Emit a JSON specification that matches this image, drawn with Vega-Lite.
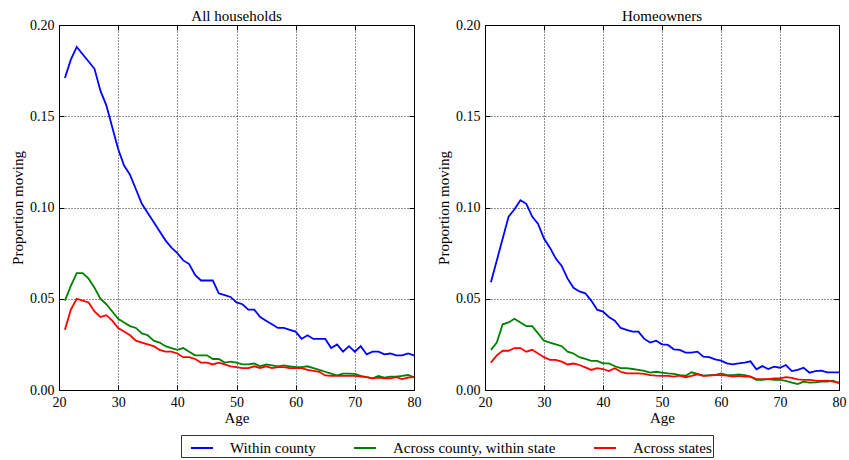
{
  "$schema": "https://vega.github.io/schema/vega-lite/v6.json",
  "padding": {"left": 10, "top": 8, "right": 5, "bottom": 0},
  "background": "white",
  "datasets": {
    "all": [
      {"age":21,"Within county":0.171,"Across county, within state":0.049,"Across states":0.033},
      {"age":22,"Within county":0.181,"Across county, within state":0.057,"Across states":0.044},
      {"age":23,"Within county":0.188,"Across county, within state":0.064,"Across states":0.050},
      {"age":24,"Within county":0.184,"Across county, within state":0.064,"Across states":0.049},
      {"age":25,"Within county":0.180,"Across county, within state":0.061,"Across states":0.048},
      {"age":26,"Within county":0.176,"Across county, within state":0.056,"Across states":0.043},
      {"age":27,"Within county":0.164,"Across county, within state":0.050,"Across states":0.040},
      {"age":28,"Within county":0.156,"Across county, within state":0.047,"Across states":0.041},
      {"age":29,"Within county":0.144,"Across county, within state":0.043,"Across states":0.038},
      {"age":30,"Within county":0.132,"Across county, within state":0.039,"Across states":0.034},
      {"age":31,"Within county":0.123,"Across county, within state":0.037,"Across states":0.032},
      {"age":32,"Within county":0.118,"Across county, within state":0.035,"Across states":0.030},
      {"age":33,"Within county":0.110,"Across county, within state":0.034,"Across states":0.027},
      {"age":34,"Within county":0.102,"Across county, within state":0.031,"Across states":0.026},
      {"age":35,"Within county":0.097,"Across county, within state":0.030,"Across states":0.025},
      {"age":36,"Within county":0.092,"Across county, within state":0.027,"Across states":0.024},
      {"age":37,"Within county":0.087,"Across county, within state":0.026,"Across states":0.022},
      {"age":38,"Within county":0.082,"Across county, within state":0.024,"Across states":0.021},
      {"age":39,"Within county":0.078,"Across county, within state":0.023,"Across states":0.021},
      {"age":40,"Within county":0.075,"Across county, within state":0.022,"Across states":0.020},
      {"age":41,"Within county":0.071,"Across county, within state":0.023,"Across states":0.018},
      {"age":42,"Within county":0.069,"Across county, within state":0.021,"Across states":0.018},
      {"age":43,"Within county":0.063,"Across county, within state":0.019,"Across states":0.017},
      {"age":44,"Within county":0.060,"Across county, within state":0.019,"Across states":0.015},
      {"age":45,"Within county":0.060,"Across county, within state":0.019,"Across states":0.015},
      {"age":46,"Within county":0.060,"Across county, within state":0.017,"Across states":0.014},
      {"age":47,"Within county":0.053,"Across county, within state":0.017,"Across states":0.015},
      {"age":48,"Within county":0.052,"Across county, within state":0.015,"Across states":0.014},
      {"age":49,"Within county":0.051,"Across county, within state":0.0155,"Across states":0.013},
      {"age":50,"Within county":0.048,"Across county, within state":0.015,"Across states":0.0125},
      {"age":51,"Within county":0.047,"Across county, within state":0.014,"Across states":0.012},
      {"age":52,"Within county":0.044,"Across county, within state":0.014,"Across states":0.012},
      {"age":53,"Within county":0.044,"Across county, within state":0.0145,"Across states":0.013},
      {"age":54,"Within county":0.040,"Across county, within state":0.013,"Across states":0.012},
      {"age":55,"Within county":0.038,"Across county, within state":0.014,"Across states":0.013},
      {"age":56,"Within county":0.036,"Across county, within state":0.0135,"Across states":0.012},
      {"age":57,"Within county":0.034,"Across county, within state":0.013,"Across states":0.0125},
      {"age":58,"Within county":0.034,"Across county, within state":0.0135,"Across states":0.0125},
      {"age":59,"Within county":0.033,"Across county, within state":0.013,"Across states":0.012},
      {"age":60,"Within county":0.032,"Across county, within state":0.0125,"Across states":0.012},
      {"age":61,"Within county":0.028,"Across county, within state":0.0125,"Across states":0.012},
      {"age":62,"Within county":0.030,"Across county, within state":0.013,"Across states":0.011},
      {"age":63,"Within county":0.028,"Across county, within state":0.012,"Across states":0.0105},
      {"age":64,"Within county":0.028,"Across county, within state":0.011,"Across states":0.010},
      {"age":65,"Within county":0.028,"Across county, within state":0.010,"Across states":0.008},
      {"age":66,"Within county":0.023,"Across county, within state":0.009,"Across states":0.0077},
      {"age":67,"Within county":0.025,"Across county, within state":0.008,"Across states":0.0077},
      {"age":68,"Within county":0.021,"Across county, within state":0.009,"Across states":0.0077},
      {"age":69,"Within county":0.024,"Across county, within state":0.009,"Across states":0.0077},
      {"age":70,"Within county":0.021,"Across county, within state":0.0088,"Across states":0.0077},
      {"age":71,"Within county":0.024,"Across county, within state":0.0077,"Across states":0.0073},
      {"age":72,"Within county":0.0195,"Across county, within state":0.007,"Across states":0.007},
      {"age":73,"Within county":0.021,"Across county, within state":0.0064,"Across states":0.0064},
      {"age":74,"Within county":0.021,"Across county, within state":0.0077,"Across states":0.0068},
      {"age":75,"Within county":0.0195,"Across county, within state":0.0068,"Across states":0.0064},
      {"age":76,"Within county":0.020,"Across county, within state":0.0073,"Across states":0.0064},
      {"age":77,"Within county":0.019,"Across county, within state":0.0073,"Across states":0.007},
      {"age":78,"Within county":0.019,"Across county, within state":0.0077,"Across states":0.006},
      {"age":79,"Within county":0.020,"Across county, within state":0.0082,"Across states":0.0068},
      {"age":80,"Within county":0.019,"Across county, within state":0.007,"Across states":0.007}
    ],
    "own": [
      {"age":21,"Within county":0.059,"Across county, within state":0.022,"Across states":0.015},
      {"age":22,"Within county":0.071,"Across county, within state":0.026,"Across states":0.019},
      {"age":23,"Within county":0.083,"Across county, within state":0.036,"Across states":0.0215},
      {"age":24,"Within county":0.095,"Across county, within state":0.037,"Across states":0.0215},
      {"age":25,"Within county":0.099,"Across county, within state":0.039,"Across states":0.023},
      {"age":26,"Within county":0.104,"Across county, within state":0.037,"Across states":0.023},
      {"age":27,"Within county":0.102,"Across county, within state":0.035,"Across states":0.021},
      {"age":28,"Within county":0.095,"Across county, within state":0.035,"Across states":0.022},
      {"age":29,"Within county":0.091,"Across county, within state":0.031,"Across states":0.020},
      {"age":30,"Within county":0.083,"Across county, within state":0.027,"Across states":0.018},
      {"age":31,"Within county":0.078,"Across county, within state":0.026,"Across states":0.0165},
      {"age":32,"Within county":0.072,"Across county, within state":0.025,"Across states":0.0165},
      {"age":33,"Within county":0.068,"Across county, within state":0.024,"Across states":0.0155},
      {"age":34,"Within county":0.061,"Across county, within state":0.021,"Across states":0.014},
      {"age":35,"Within county":0.056,"Across county, within state":0.020,"Across states":0.0145},
      {"age":36,"Within county":0.054,"Across county, within state":0.018,"Across states":0.0137},
      {"age":37,"Within county":0.053,"Across county, within state":0.017,"Across states":0.0124},
      {"age":38,"Within county":0.049,"Across county, within state":0.016,"Across states":0.011},
      {"age":39,"Within county":0.044,"Across county, within state":0.016,"Across states":0.012},
      {"age":40,"Within county":0.043,"Across county, within state":0.0146,"Across states":0.0115},
      {"age":41,"Within county":0.040,"Across county, within state":0.0146,"Across states":0.0104},
      {"age":42,"Within county":0.038,"Across county, within state":0.013,"Across states":0.0119},
      {"age":43,"Within county":0.034,"Across county, within state":0.012,"Across states":0.010},
      {"age":44,"Within county":0.033,"Across county, within state":0.012,"Across states":0.0091},
      {"age":45,"Within county":0.032,"Across county, within state":0.0115,"Across states":0.0091},
      {"age":46,"Within county":0.032,"Across county, within state":0.011,"Across states":0.0091},
      {"age":47,"Within county":0.028,"Across county, within state":0.0105,"Across states":0.0088},
      {"age":48,"Within county":0.026,"Across county, within state":0.0095,"Across states":0.0082},
      {"age":49,"Within county":0.027,"Across county, within state":0.010,"Across states":0.0079},
      {"age":50,"Within county":0.025,"Across county, within state":0.0095,"Across states":0.0077},
      {"age":51,"Within county":0.0247,"Across county, within state":0.0091,"Across states":0.0077},
      {"age":52,"Within county":0.0223,"Across county, within state":0.0088,"Across states":0.0073},
      {"age":53,"Within county":0.022,"Across county, within state":0.0082,"Across states":0.0079},
      {"age":54,"Within county":0.0205,"Across county, within state":0.0078,"Across states":0.007},
      {"age":55,"Within county":0.0205,"Across county, within state":0.0097,"Across states":0.0077},
      {"age":56,"Within county":0.021,"Across county, within state":0.0088,"Across states":0.0086},
      {"age":57,"Within county":0.0183,"Across county, within state":0.0079,"Across states":0.0077},
      {"age":58,"Within county":0.018,"Across county, within state":0.0082,"Across states":0.0079},
      {"age":59,"Within county":0.0168,"Across county, within state":0.0082,"Across states":0.0082},
      {"age":60,"Within county":0.0161,"Across county, within state":0.0091,"Across states":0.0082},
      {"age":61,"Within county":0.0146,"Across county, within state":0.0082,"Across states":0.0079},
      {"age":62,"Within county":0.0141,"Across county, within state":0.0082,"Across states":0.0073},
      {"age":63,"Within county":0.0146,"Across county, within state":0.0086,"Across states":0.0077},
      {"age":64,"Within county":0.015,"Across county, within state":0.0082,"Across states":0.0073},
      {"age":65,"Within county":0.0157,"Across county, within state":0.0073,"Across states":0.0073},
      {"age":66,"Within county":0.0113,"Across county, within state":0.0055,"Across states":0.006},
      {"age":67,"Within county":0.0131,"Across county, within state":0.0055,"Across states":0.006},
      {"age":68,"Within county":0.0115,"Across county, within state":0.006,"Across states":0.006},
      {"age":69,"Within county":0.0128,"Across county, within state":0.0055,"Across states":0.0064},
      {"age":70,"Within county":0.0122,"Across county, within state":0.0055,"Across states":0.0064},
      {"age":71,"Within county":0.0137,"Across county, within state":0.005,"Across states":0.007},
      {"age":72,"Within county":0.0104,"Across county, within state":0.004,"Across states":0.0067},
      {"age":73,"Within county":0.011,"Across county, within state":0.0033,"Across states":0.0058},
      {"age":74,"Within county":0.0122,"Across county, within state":0.0046,"Across states":0.0055},
      {"age":75,"Within county":0.0095,"Across county, within state":0.004,"Across states":0.0055},
      {"age":76,"Within county":0.0104,"Across county, within state":0.0042,"Across states":0.0051},
      {"age":77,"Within county":0.0106,"Across county, within state":0.0046,"Across states":0.005},
      {"age":78,"Within county":0.0097,"Across county, within state":0.0046,"Across states":0.0051},
      {"age":79,"Within county":0.0097,"Across county, within state":0.0051,"Across states":0.0046},
      {"age":80,"Within county":0.0097,"Across county, within state":0.0037,"Across states":0.004}
    ]
  },
  "config": {
    "font": "Liberation Serif",
    "view": {"stroke": "black", "strokeWidth": 1},
    "title": {"fontSize": 15, "fontWeight": "normal", "color": "black", "anchor": "middle", "offset": -6, "font": "Liberation Serif"},
    "axis": {
      "labelFont": "Liberation Serif", "labelFontSize": 14, "labelColor": "black", "labelFlush": false, "labelOverlap": false,
      "titleFont": "Liberation Serif", "titleFontSize": 15, "titleFontWeight": "normal", "titleColor": "black",
      "domain": false, "tickColor": "black", "tickSize": -5, "tickWidth": 1,
      "grid": true, "gridColor": "black", "gridDash": [1, 2], "gridOpacity": 0.85, "gridWidth": 1
    },
    "legend": {
      "labelFont": "Liberation Serif", "labelFontSize": 15, "labelColor": "black", "labelLimit": 400
    }
  },
  "spacing": 14,
  "hconcat": [
    {
      "title": "All households",
      "width": 355, "height": 365,
      "data": {"name": "all"},
      "transform": [{"fold": ["Within county", "Across county, within state", "Across states"], "as": ["series", "value"]}],
      "layer": [
        {
          "mark": {"type": "line", "strokeWidth": 1.8},
          "encoding": {
            "x": {"field": "age", "type": "quantitative", "scale": {"domain": [20, 80], "nice": false}, "axis": {"title": "Age", "values": [20, 30, 40, 50, 60, 70, 80], "labelPadding": 10, "titlePadding": 1}},
            "y": {"field": "value", "type": "quantitative", "scale": {"domain": [0, 0.2], "nice": false}, "axis": {"title": "Proportion moving", "values": [0, 0.05, 0.1, 0.15, 0.2], "format": ".2f", "labelPadding": 10, "titlePadding": 4}},
            "color": {"field": "series", "type": "nominal", "scale": {"domain": ["Within county", "Across county, within state", "Across states"], "range": ["#0000ff", "#008000", "#ff0000"]},
              "legend": {"title": null, "orient": "none", "legendX": 122, "legendY": 410, "direction": "horizontal", "columns": 3, "symbolType": "stroke", "symbolSize": 484, "symbolStrokeWidth": 2, "symbolOffset": 8, "labelOffset": 16, "labelLimit": 400, "columnPadding": 29, "strokeColor": "#333333", "padding": 1, "cornerRadius": 0}}
          }
        },
        {
          "mark": {"type": "line", "opacity": 0},
          "encoding": {
            "x": {"field": "age", "type": "quantitative", "scale": {"domain": [20, 80], "nice": false}, "axis": {"orient": "top", "title": null, "labels": false, "grid": false, "minExtent": 0, "maxExtent": 0, "values": [20, 30, 40, 50, 60, 70, 80]}},
            "y": {"field": "value", "type": "quantitative", "scale": {"domain": [0, 0.2], "nice": false}, "axis": {"orient": "right", "title": null, "labels": false, "grid": false, "minExtent": 0, "maxExtent": 0, "values": [0, 0.05, 0.1, 0.15, 0.2]}}
          }
        }
      ],
      "resolve": {"axis": {"x": "independent", "y": "independent"}}
    },
    {
      "title": "Homeowners",
      "width": 354, "height": 365,
      "data": {"name": "own"},
      "transform": [{"fold": ["Within county", "Across county, within state", "Across states"], "as": ["series", "value"]}],
      "layer": [
        {
          "mark": {"type": "line", "strokeWidth": 1.8},
          "encoding": {
            "x": {"field": "age", "type": "quantitative", "scale": {"domain": [20, 80], "nice": false}, "axis": {"title": "Age", "values": [20, 30, 40, 50, 60, 70, 80], "labelPadding": 10, "titlePadding": 1}},
            "y": {"field": "value", "type": "quantitative", "scale": {"domain": [0, 0.2], "nice": false}, "axis": {"title": "Proportion moving", "values": [0, 0.05, 0.1, 0.15, 0.2], "format": ".2f", "labelPadding": 10, "titlePadding": 4}},
            "color": {"field": "series", "type": "nominal", "scale": {"domain": ["Within county", "Across county, within state", "Across states"], "range": ["#0000ff", "#008000", "#ff0000"]},
              "legend": {"title": null, "orient": "none", "legendX": 122, "legendY": 410, "direction": "horizontal", "columns": 3, "symbolType": "stroke", "symbolSize": 484, "symbolStrokeWidth": 2, "symbolOffset": 8, "labelOffset": 16, "labelLimit": 400, "columnPadding": 29, "strokeColor": "#333333", "padding": 1, "cornerRadius": 0}}
          }
        },
        {
          "mark": {"type": "line", "opacity": 0},
          "encoding": {
            "x": {"field": "age", "type": "quantitative", "scale": {"domain": [20, 80], "nice": false}, "axis": {"orient": "top", "title": null, "labels": false, "grid": false, "minExtent": 0, "maxExtent": 0, "values": [20, 30, 40, 50, 60, 70, 80]}},
            "y": {"field": "value", "type": "quantitative", "scale": {"domain": [0, 0.2], "nice": false}, "axis": {"orient": "right", "title": null, "labels": false, "grid": false, "minExtent": 0, "maxExtent": 0, "values": [0, 0.05, 0.1, 0.15, 0.2]}}
          }
        }
      ],
      "resolve": {"axis": {"x": "independent", "y": "independent"}}
    }
  ]
}
